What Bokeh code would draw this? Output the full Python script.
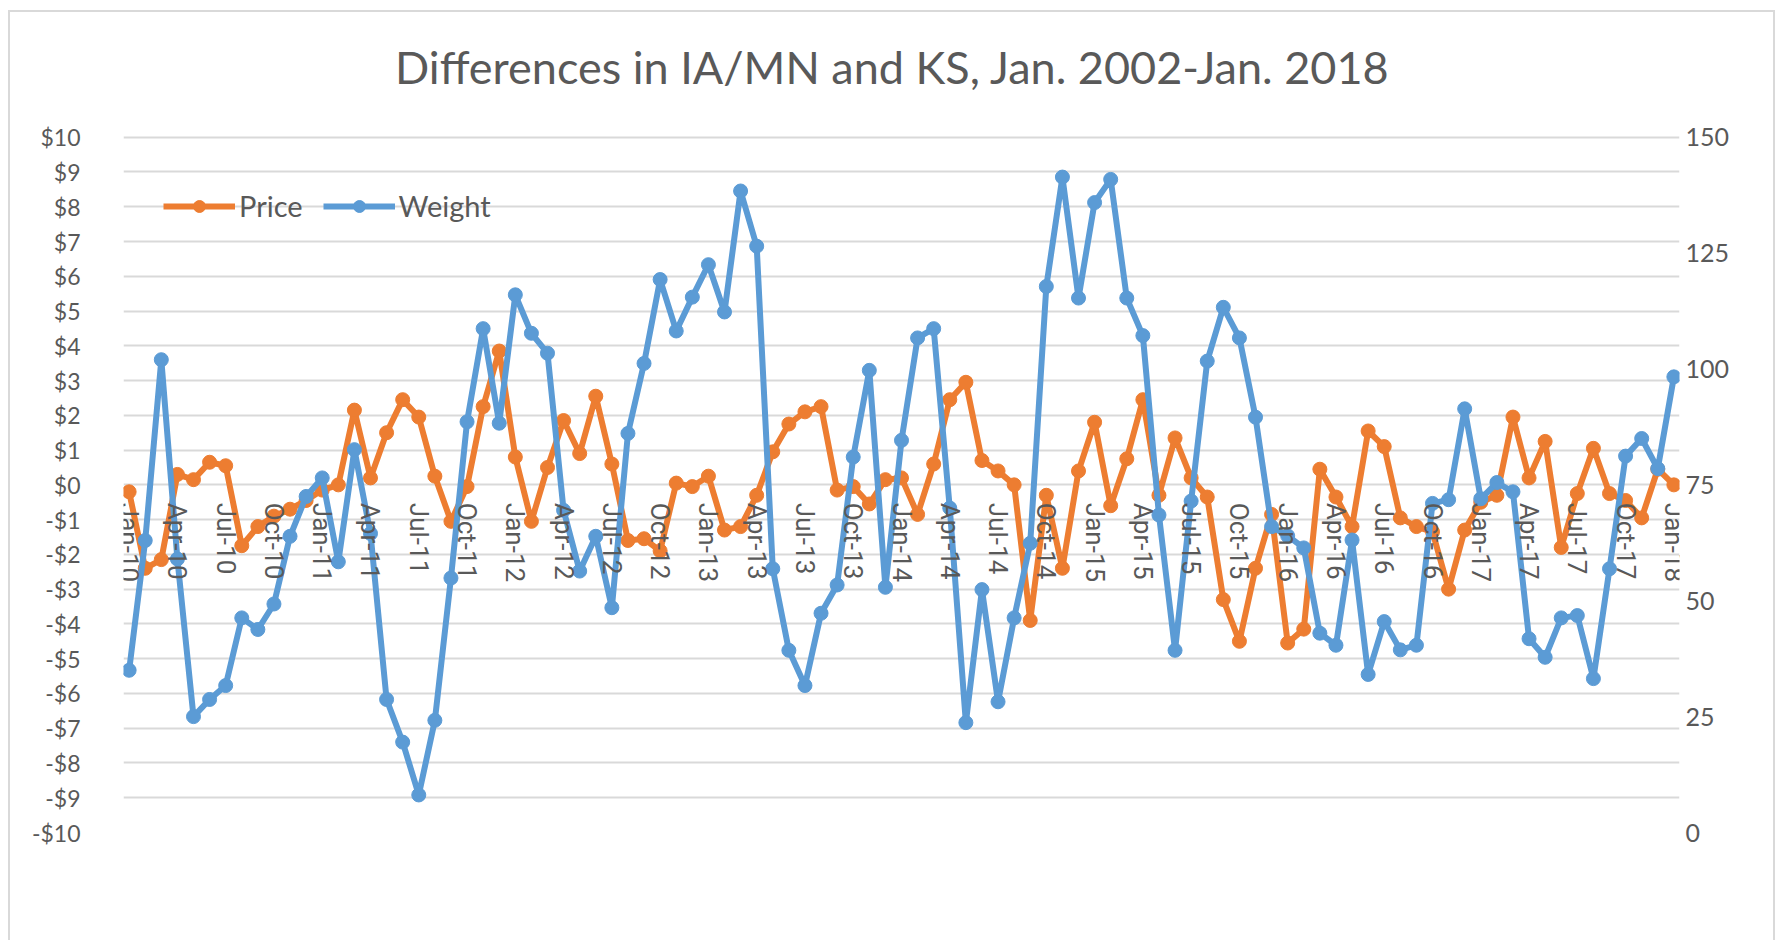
from bokeh.plotting import figure
from bokeh.models import LinearAxis, Range1d, FixedTicker, Legend, LegendItem, Label
from bokeh.embed import file_html
from bokeh.resources import INLINE

# ---- data ----
month_index = list(range(97))  # Jan-10 .. Jan-18, monthly
tick_labels = ["Jan-10", "Apr-10", "Jul-10", "Oct-10", "Jan-11", "Apr-11", "Jul-11", "Oct-11",
               "Jan-12", "Apr-12", "Jul-12", "Oct-12", "Jan-13", "Apr-13", "Jul-13", "Oct-13",
               "Jan-14", "Apr-14", "Jul-14", "Oct-14", "Jan-15", "Apr-15", "Jul-15", "Oct-15",
               "Jan-16", "Apr-16", "Jul-16", "Oct-16", "Jan-17", "Apr-17", "Jul-17", "Oct-17",
               "Jan-18"]
tick_positions = list(range(0, 97, 3))

price = [-0.2, -2.4, -2.15, 0.3, 0.15, 0.65, 0.55, -1.75, -1.2, -0.9, -0.7, -0.45,
         -0.15, 0.0, 2.15, 0.2, 1.5, 2.45, 1.95, 0.25, -1.05, -0.05, 2.25, 3.85,
         0.8, -1.05, 0.5, 1.85, 0.9, 2.55, 0.6, -1.6, -1.55, -1.9, 0.05, -0.05,
         0.25, -1.3, -1.2, -0.3, 0.95, 1.75, 2.1, 2.25, -0.15, -0.05, -0.55, 0.15,
         0.2, -0.85, 0.6, 2.45, 2.95, 0.7, 0.4, 0.0, -3.9, -0.3, -2.4, 0.4,
         1.8, -0.6, 0.75, 2.45, -0.3, 1.35, 0.2, -0.35, -3.3, -4.5, -2.4, -0.85,
         -4.55, -4.15, 0.45, -0.35, -1.2, 1.55, 1.1, -0.95, -1.2, -1.35, -3.0, -1.3,
         -0.5, -0.3, 1.95, 0.2, 1.25, -1.8, -0.25, 1.05, -0.25, -0.45, -0.95, 0.45,
         0.0]

weight = [35, 63, 102, 59, 25, 28.7, 31.7, 46.3, 43.8, 49.3, 63.9, 72.5,
          76.5, 58.4, 82.6, 64.5, 28.7, 19.5, 8.1, 24.2, 54.9, 88.6, 108.7, 88.3,
          116, 107.7, 103.4, 69.5, 56.4, 63.9, 48.5, 86.1, 101.2, 119.3, 108.2, 115.5,
          122.5, 112.3, 138.4, 126.5, 56.9, 39.3, 31.7, 47.3, 53.4, 81.0, 99.7, 52.9,
          84.6, 106.7, 108.7, 70.0, 23.7, 52.4, 28.2, 46.3, 62.4, 117.8, 141.4, 115.3,
          135.9, 140.9, 115.3, 107.2, 68.5, 39.3, 71.5, 101.7, 113.3, 106.7, 89.6, 66.0,
          64.0, 61.4, 43.0, 40.4, 63.1, 34.1, 45.5, 39.4, 40.4, 71.0, 71.8, 91.4,
          72.0, 75.5, 73.5, 41.8, 37.8, 46.3, 46.8, 33.2, 56.9, 81.2, 85.0, 78.5,
          98.3]

price_ticks = list(range(-10, 11))
price_tick_labels = ["-$10", "-$9", "-$8", "-$7", "-$6", "-$5", "-$4", "-$3", "-$2", "-$1",
                     "$0", "$1", "$2", "$3", "$4", "$5", "$6", "$7", "$8", "$9", "$10"]
weight_ticks = [0, 25, 50, 75, 100, 125, 150]

title_text = "Differences in IA/MN and KS, Jan. 2002-Jan. 2018"

ORANGE = "#ED7D31"
BLUE = "#5B9BD5"
GREY_TXT = "#595959"
GRID = "#D9D9D9"

# the frame extends above $10 to leave room for the chart title inside it
PRICE_TOP = 13.3
WEIGHT_TOP = 75 + 7.5 * PRICE_TOP

p = figure(width=1767, height=930,
           x_range=Range1d(-0.35, 96.35), y_range=Range1d(-10, PRICE_TOP),
           output_backend="svg", toolbar_location=None,
           min_border_left=113, min_border_right=98,
           min_border_top=10, min_border_bottom=110)
p.styles = {"margin-left": "8px", "margin-top": "10px",
            "border-left": "2px solid #D9D9D9", "border-right": "2px solid #D9D9D9",
            "border-top": "2px solid #D9D9D9"}
p.outline_line_color = None
p.background_fill_color = "white"
p.border_fill_color = "white"

# title
title = Label(x=769, y=766, x_units="screen", y_units="screen", text=title_text,
              text_align="center", text_baseline="middle",
              text_font="Lato", text_font_size="45px", text_color=GREY_TXT)
p.add_layout(title)

# x axis at $0
xa = p.xaxis[0]
xa.fixed_location = 0
xa.ticker = FixedTicker(ticks=tick_positions)
xa.major_label_overrides = {pos: lab for pos, lab in zip(tick_positions, tick_labels)}
xa.major_label_orientation = "vertical"
xa.axis_line_color = None
xa.major_tick_line_color = None
xa.minor_tick_line_color = None
xa.major_label_standoff = 12
xa.major_label_text_font = "Roboto"
xa.major_label_text_font_size = "26px"
xa.major_label_text_color = GREY_TXT
p.xgrid.visible = False

# left axis
ya = p.yaxis[0]
ya.ticker = FixedTicker(ticks=price_ticks)
ya.major_label_overrides = {t: lab for t, lab in zip(price_ticks, price_tick_labels)}
ya.axis_line_color = None
ya.major_tick_line_color = None
ya.minor_tick_line_color = None
ya.major_label_standoff = 37
ya.major_label_text_font = "Lato"
ya.major_label_text_font_size = "23px"
ya.major_label_text_color = GREY_TXT
p.ygrid.ticker = FixedTicker(ticks=price_ticks)
p.ygrid.grid_line_color = GRID
p.ygrid.grid_line_width = 2

# right axis
p.extra_y_ranges = {"w": Range1d(0, WEIGHT_TOP)}
ra = LinearAxis(y_range_name="w", ticker=FixedTicker(ticks=weight_ticks))
ra.axis_line_color = None
ra.major_tick_line_color = None
ra.minor_tick_line_color = None
ra.major_label_standoff = 0
ra.major_label_text_font = "Lato"
ra.major_label_text_font_size = "25px"
ra.major_label_text_color = GREY_TXT
p.add_layout(ra, "right")

# series
l1 = p.line(month_index, price, line_color=ORANGE, line_width=6)
s1 = p.scatter(month_index, price, size=14, fill_color=ORANGE, line_color=ORANGE)
l2 = p.line(month_index, weight, line_color=BLUE, line_width=6, y_range_name="w")
s2 = p.scatter(month_index, weight, size=14, fill_color=BLUE, line_color=BLUE, y_range_name="w")

legend = Legend(items=[LegendItem(label="Price", renderers=[l1, s1]),
                       LegendItem(label="Weight", renderers=[l2, s2])],
                orientation="horizontal", location=(40, 609),
                background_fill_alpha=0, border_line_color=None,
                label_text_font="Lato", label_text_font_size="29px",
                label_text_color=GREY_TXT, glyph_width=72, glyph_height=30,
                spacing=20, padding=0, margin=0, label_standoff=4)
p.add_layout(legend)

open("out.html", "w").write(file_html(p, INLINE))
